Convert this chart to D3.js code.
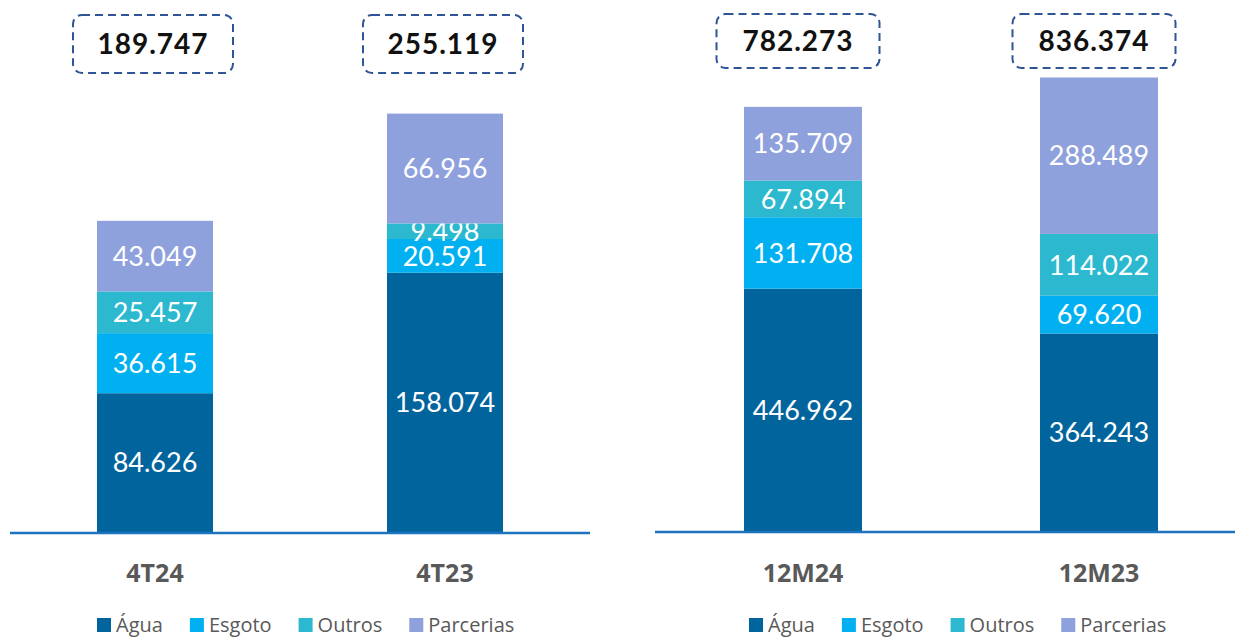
<!DOCTYPE html>
<html>
<head>
<meta charset="utf-8">
<script src="https://cdn.jsdelivr.net/npm/d3@7"></script>
<style>
  body { margin: 0; background: #fff; }
  svg { display: block; }
</style>
</head>
<body>
<div id="chart"></div>
<script>
// Data (values in thousands, pt-BR formatting)
const series = ['Água', 'Esgoto', 'Outros', 'Parcerias'];
const quarterCats = ['4T24', '4T23'];
const quarterAgua = [84.626, 158.074];
const quarterEsgoto = [36.615, 20.591];
const quarterOutros = [25.457, 9.498];
const quarterParcerias = [43.049, 66.956];
const quarterTotals = ['189.747', '255.119'];

const yearCats = ['12M24', '12M23'];
const yearAgua = [446.962, 364.243];
const yearEsgoto = [131.708, 69.620];
const yearOutros = [67.894, 114.022];
const yearParcerias = [135.709, 288.489];
const yearTotals = ['782.273', '836.374'];

const colors = ['#02649C', '#00B0F0', '#2CB9CF', '#8FA1DC'];

const width = 1235, height = 637;
const svg = d3.select('#chart').append('svg')
    .attr('width', width)
    .attr('height', height);

const fmt = v => v.toFixed(3);

function buildRows(cats, a, e, o, p) {
    return cats.map((c, i) => ({ cat: c, 'Água': a[i], 'Esgoto': e[i], 'Outros': o[i], 'Parcerias': p[i] }));
}

function drawPanel(cfg) {
    const g = svg.append('g');
    const rows = buildRows(cfg.cats, cfg.a, cfg.e, cfg.o, cfg.p);
    const stacked = d3.stack().keys(series)(rows);

    const x = d3.scalePoint().domain(cfg.cats).range(cfg.xRange).padding(0.5);
    const y = d3.scaleLinear().domain([0, cfg.yMax]).range([cfg.base, cfg.top]);
    const color = d3.scaleOrdinal().domain(series).range(colors);

    // stacked bars
    stacked.forEach(layer => {
        const lg = g.append('g');
        lg.selectAll('rect')
            .data(layer)
            .enter()
            .append('rect')
            .attr('x', d => x(d.data.cat) - cfg.barW / 2)
            .attr('y', d => y(d[1]))
            .attr('width', cfg.barW)
            .attr('height', d => y(d[0]) - y(d[1]))
            .attr('fill', color(layer.key));

        lg.selectAll('text')
            .data(layer)
            .enter()
            .append('text')
            .attr('x', d => x(d.data.cat))
            .attr('y', d => (y(d[0]) + y(d[1])) / 2)
            .attr('dy', '0.36em')
            .attr('text-anchor', 'middle')
            .style('font-family', 'Lato, sans-serif')
            .style('font-size', '27px')
            .style('fill', '#fff')
            .text(d => fmt(d.data[layer.key]));
    });

    // baseline
    g.append('line')
        .attr('x1', cfg.lineX[0])
        .attr('x2', cfg.lineX[1])
        .attr('y1', cfg.base + 1)
        .attr('y2', cfg.base + 1)
        .attr('stroke', '#1E73BE')
        .attr('stroke-width', 2.5);

    // category labels
    g.selectAll('.cat')
        .data(cfg.cats)
        .enter()
        .append('text')
        .attr('x', d => x(d))
        .attr('y', 582)
        .attr('text-anchor', 'middle')
        .style('font-family', '"Open Sans", sans-serif')
        .style('font-weight', 700)
        .style('font-size', '25px')
        .style('fill', '#595959')
        .text(d => d);

    // total boxes
    cfg.cats.forEach((c, i) => {
        const cx = x(c) + cfg.boxShift;
        g.append('rect')
            .attr('x', cx - cfg.boxW / 2)
            .attr('y', cfg.boxY)
            .attr('width', cfg.boxW)
            .attr('height', cfg.boxH)
            .attr('rx', 9)
            .attr('fill', '#fff')
            .attr('stroke', '#2F5597')
            .attr('stroke-width', 2)
            .attr('stroke-dasharray', '8,5');
        g.append('text')
            .attr('x', cx)
            .attr('y', cfg.boxY + cfg.boxH / 2)
            .attr('dy', '0.36em')
            .attr('text-anchor', 'middle')
            .style('font-family', 'Lato, sans-serif')
            .style('font-weight', 700)
            .style('font-size', '28px')
            .style('letter-spacing', '1px')
            .style('fill', '#111')
            .text(cfg.totals[i]);
    });

    // legend
    const legend = g.append('g').attr('transform', `translate(${cfg.legendX}, 0)`);
    let lx = 0;
    series.forEach(s => {
        legend.append('rect')
            .attr('x', lx)
            .attr('y', 618)
            .attr('width', 14)
            .attr('height', 14)
            .attr('fill', color(s));
        const t = legend.append('text')
            .attr('x', lx + 19)
            .attr('y', 632)
            .style('font-family', '"Open Sans", sans-serif')
            .style('font-size', '20px')
            .style('fill', '#595959')
            .text(s);
        lx += 19 + t.node().getComputedTextLength() + 27;
    });
}

drawPanel({
    cats: quarterCats, a: quarterAgua, e: quarterEsgoto, o: quarterOutros, p: quarterParcerias,
    totals: quarterTotals,
    xRange: [10, 590], yMax: 300, base: 532, top: 40, barW: 116,
    lineX: [10, 590], boxShift: -2, boxY: 15, boxW: 160, boxH: 58, legendX: 97
});

drawPanel({
    cats: yearCats, a: yearAgua, e: yearEsgoto, o: yearOutros, p: yearParcerias,
    totals: yearTotals,
    xRange: [655, 1247], yMax: 900, base: 531, top: 43, barW: 118,
    lineX: [655, 1235], boxShift: -5, boxY: 14, boxW: 163, boxH: 54, legendX: 749
});
</script>
</body>
</html>
